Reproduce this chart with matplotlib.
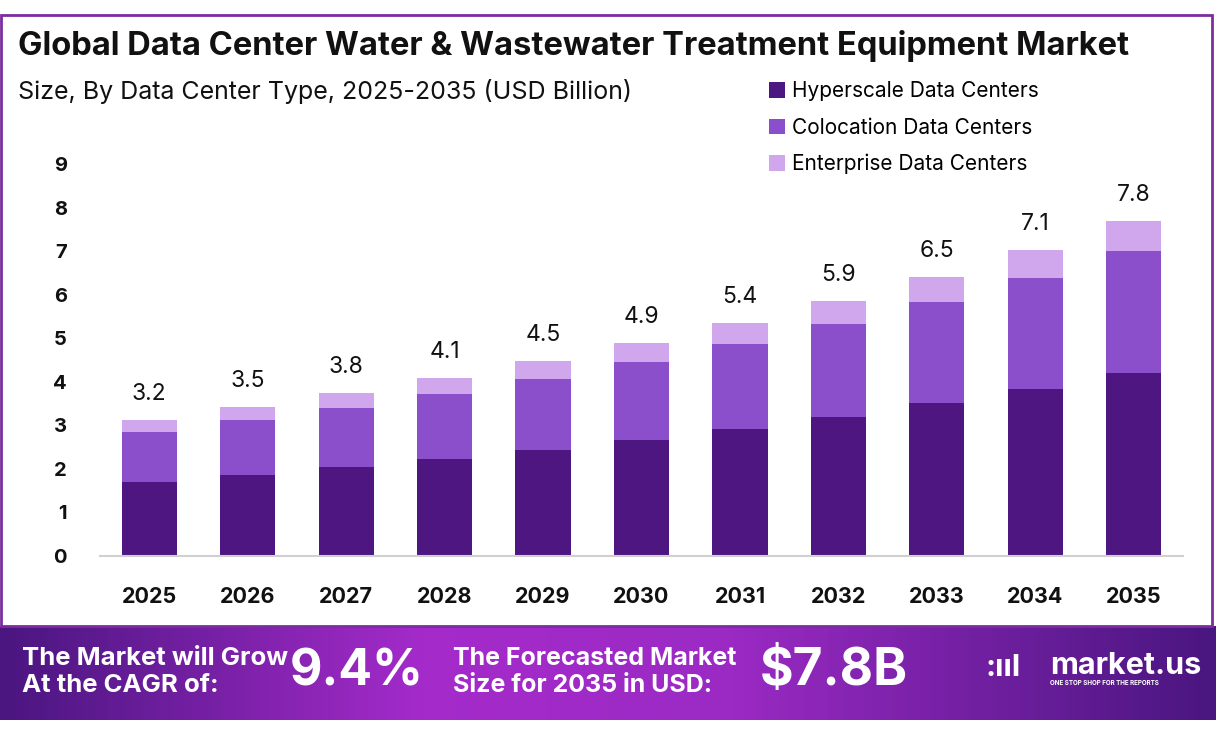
import numpy as np
import matplotlib.pyplot as plt
from matplotlib.patches import Rectangle
from matplotlib.colors import LinearSegmentedColormap

# -----------------------------------------------------------------------------
# data (USD Billion)
years = ['2025', '2026', '2027', '2028', '2029', '2030',
         '2031', '2032', '2033', '2034', '2035']
hyperscale = [1.70, 1.86, 2.04, 2.22, 2.43, 2.66, 2.91, 3.19, 3.52, 3.83, 4.20]
colocation = [1.14, 1.26, 1.35, 1.50, 1.63, 1.79, 1.95, 2.13, 2.31, 2.55, 2.80]
enterprise = [0.28, 0.30, 0.35, 0.36, 0.41, 0.44, 0.48, 0.53, 0.58, 0.64, 0.68]
totals = [3.2, 3.5, 3.8, 4.1, 4.5, 4.9, 5.4, 5.9, 6.5, 7.1, 7.8]
series_names = ['Hyperscale Data Centers', 'Colocation Data Centers',
                'Enterprise Data Centers']
cagr = '9.4%'
forecast = '$7.8B'

# colours
c_hyper = '#4E1680'
c_coloc = '#8B4FCC'
c_enter = '#D0A6EC'

plt.rcParams['font.family'] = ['Inter', 'DejaVu Sans']

W, H = 1216, 733
fig = plt.figure(figsize=(W / 100, H / 100), dpi=100)

def fx(px):
    return px / W

def fy(py):
    return 1 - py / H

# -----------------------------------------------------------------------------
# purple frame
fig.patches.append(Rectangle((fx(1), fy(626)), fx(1211), fy(15) - fy(626),
                             transform=fig.transFigure, fill=False,
                             edgecolor='#7A2E9E', linewidth=2))

# -----------------------------------------------------------------------------
# main chart
ax = fig.add_axes([fx(100), fy(556), fx(1083), fy(164) - fy(556)])
x = np.arange(len(years))
bw = 0.56
bottom2 = np.array(hyperscale) + np.array(colocation)
ax.bar(x, hyperscale, bw, color=c_hyper, label=series_names[0])
ax.bar(x, colocation, bw, bottom=hyperscale, color=c_coloc, label=series_names[1])
ax.bar(x, enterprise, bw, bottom=bottom2, color=c_enter, label=series_names[2])

stack_top = bottom2 + np.array(enterprise)
for xi, top, lab in zip(x, stack_top, totals):
    ax.text(xi, top + 0.35, f'{lab}', ha='center', va='bottom',
            fontsize=16.5, color='#111111')

ax.set_xlim(-0.5, 10.5)
ax.set_ylim(0, 9)
ax.set_yticks(range(10))
ax.set_xticks(x)
ax.set_xticklabels(years)
for lab in ax.get_yticklabels():
    lab.set_fontweight('bold')
    lab.set_fontsize(14.5)
    lab.set_color('#111111')
for lab in ax.get_xticklabels():
    lab.set_fontweight('bold')
    lab.set_fontsize(15.5)
    lab.set_color('#111111')
ax.tick_params(axis='both', length=0)
ax.tick_params(axis='x', pad=22)
ax.tick_params(axis='y', pad=24)
for side in ['top', 'right', 'left']:
    ax.spines[side].set_visible(False)
ax.spines['bottom'].set_color('#d0d0d0')
ax.spines['bottom'].set_linewidth(1.5)

leg = ax.legend(loc='upper left', bbox_to_anchor=(fx(661) / fx(1083), 1.232),
                frameon=False, fontsize=15, handlelength=0.75, handleheight=0.75,
                handletextpad=0.35, labelspacing=0.78, borderaxespad=0)

# titles
fig.text(fx(18), fy(46), 'Global Data Center Water & Wastewater Treatment Equipment Market',
         fontsize=23.5, fontweight='bold', ha='left', va='center', color='#111111')
fig.text(fx(18), fy(91), 'Size, By Data Center Type, 2025-2035 (USD Billion)',
         fontsize=18, ha='left', va='center', color='#111111')

# -----------------------------------------------------------------------------
# bottom banner
bax = fig.add_axes([0, fy(720), 1, fy(626) - fy(720)])
grad = LinearSegmentedColormap.from_list('banner', [
    (0.0, '#4A1680'), (0.35, '#A52BCB'), (0.6, '#9B2AC4'), (1.0, '#4A1680')])
bax.imshow(np.linspace(0, 1, 400).reshape(1, -1), aspect='auto', cmap=grad,
           extent=[0, 1, 0, 1])
bax.set_xlim(0, 1)
bax.set_ylim(0, 1)
bax.axis('off')

fig.text(fx(22), fy(672), 'The Market will Grow\nAt the CAGR of:', color='white',
         fontsize=18.5, fontweight='bold', ha='left', va='center', linespacing=1.25)
fig.text(fx(290), fy(672), cagr, color='white', fontsize=36, fontweight='bold',
         ha='left', va='center')
fig.text(fx(453), fy(672), 'The Forecasted Market\nSize for 2035 in USD:', color='white',
         fontsize=18, fontweight='bold', ha='left', va='center', linespacing=1.25)
fig.text(fx(760), fy(672), forecast, color='white', fontsize=37, fontweight='bold',
         ha='left', va='center')

# logo
fig.text(fx(985), fy(668), ':ııl', color='white', fontsize=22, fontweight='bold',
         ha='left', va='center')
fig.text(fx(1050), fy(666), 'market.us', color='white', fontsize=22, fontweight='bold',
         ha='left', va='center')
fig.text(fx(1050), fy(683), 'ONE STOP SHOP FOR THE REPORTS', color='white', fontsize=4.5,
         fontweight='bold', ha='left', va='center')

fig.savefig('out.png', dpi=100, facecolor='white')
